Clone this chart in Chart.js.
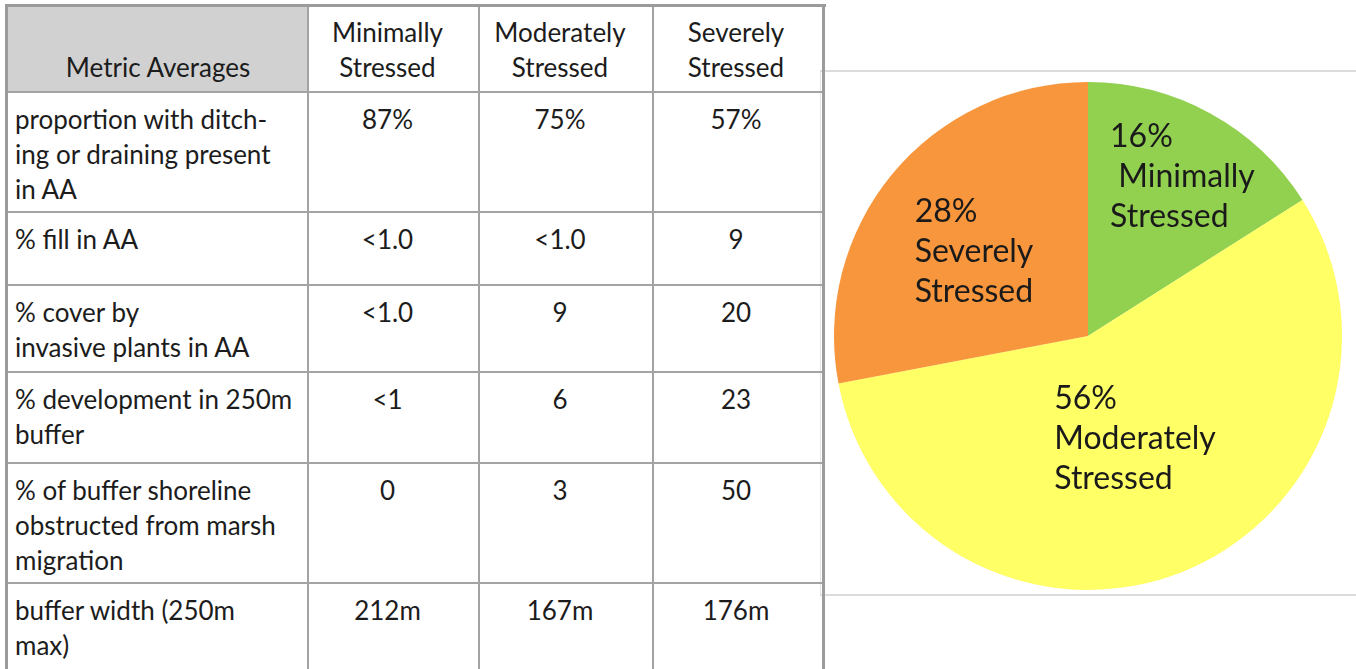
<!DOCTYPE html>
<html>
<head>
<meta charset="utf-8">
<script src="https://cdn.jsdelivr.net/npm/chart.js@4/dist/chart.umd.min.js"></script>
<style>
  html, body { margin: 0; padding: 0; background: #ffffff; }
  body { width: 1356px; height: 669px; position: relative; overflow: hidden;
         font-family: Lato, "Open Sans", sans-serif; color: #1c1c1c; }
  .line { position: absolute; background: #a3a3a3; }
  .cell { position: absolute; box-sizing: border-box; font-size: 26px; line-height: 35px; white-space: nowrap; }
  .head { background: #d1d1d1; }
  .colhead { text-align: center; }
  .metric { padding: 10px 0 0 7px; }
  .val { text-align: center; padding-top: 10px; }
  #panel { position: absolute; left: 820px; top: 70px; width: 560px; height: 526px;
           border-top: 2px solid #dcdcdc; border-bottom: 2px solid #dcdcdc; border-left: 1px solid #e3e3e3;
           box-sizing: border-box; }
  #pieWrap { position: absolute; left: 834px; top: 82px; width: 508px; height: 508px; }
</style>
</head>
<body>
<div id="panel"></div>
<div id="pieWrap"><canvas id="pie" width="508" height="508"></canvas></div>
<div id="table"></div>
<script>
// Stress classes and share of sites in each
const categories = ['Minimally Stressed', 'Moderately Stressed', 'Severely Stressed'];
const shares = [16, 56, 28];
const sliceColors = ['#92D050', '#FFFF66', '#F7963C'];

// Metric averages per stress class
const metricNames = [
  'proportion with ditch-<br>ing or draining present<br>in AA',
  '% fill in AA',
  '% cover by<br>invasive plants in AA',
  '% development in 250m<br>buffer',
  '% of buffer shoreline<br>obstructed from marsh<br>migration',
  'buffer width (250m<br>max)'
];
const minimallyValues  = ['87%', '<1.0', '<1.0', '<1', '0', '212m'];
const moderatelyValues = ['75%', '<1.0', '9', '6', '3', '167m'];
const severelyValues   = ['57%', '9', '20', '23', '50', '176m'];

// ---- table layout ----
const colX = [8, 308, 479, 653, 823];               // grid line positions (x)
const rowY = [6, 92, 212, 285, 372, 463, 583, 705]; // grid line positions (y)
const colPadRight = [12, 12, 4];                    // nudges the centred text in each value column
const table = document.getElementById('table');

function addCell(x0, y0, x1, y1, cls, html, extraStyle) {
  const d = document.createElement('div');
  d.className = 'cell ' + cls;
  d.style.left = x0 + 'px'; d.style.top = y0 + 'px';
  d.style.width = (x1 - x0) + 'px'; d.style.height = (y1 - y0) + 'px';
  if (extraStyle) Object.assign(d.style, extraStyle);
  d.innerHTML = html;
  table.appendChild(d);
}
function addLine(x, y, w, h, color) {
  const d = document.createElement('div');
  d.className = 'line';
  d.style.left = x + 'px'; d.style.top = y + 'px';
  d.style.width = w + 'px'; d.style.height = h + 'px';
  if (color) d.style.background = color;
  table.appendChild(d);
}

// header row
addCell(colX[0], rowY[0], colX[1], rowY[1], 'head', 'Metric Averages',
  { textAlign: 'center', paddingTop: '44px' });
const headers = categories.map(c => c.replace(' ', '<br>'));
headers.forEach((h, i) => {
  addCell(colX[i + 1], rowY[0], colX[i + 2], rowY[1], 'colhead', h,
    { paddingTop: '9px', paddingRight: colPadRight[i] + 'px' });
});

// body rows
const valueCols = [minimallyValues, moderatelyValues, severelyValues];
metricNames.forEach((name, r) => {
  addCell(colX[0], rowY[r + 1], colX[1], rowY[r + 2], 'metric', name);
  valueCols.forEach((vals, c) => {
    const txt = vals[r].replace('<', '&lt;');
    addCell(colX[c + 1], rowY[r + 1], colX[c + 2], rowY[r + 2], 'val', txt,
      { paddingRight: colPadRight[c] + 'px' });
  });
});

// grid lines
rowY.slice(1, -1).forEach(y => addLine(colX[0], y - 1, colX[4] - colX[0], 2));
colX.slice(1, -1).forEach(x => addLine(x - 1, rowY[0], 2, 700));
// outer frame
addLine(5, 4, 3, 700, '#9b9b9b');
addLine(5, 4, 821, 3, '#9b9b9b');
addLine(822, 4, 3, 700, '#9b9b9b');

// ---- pie chart ----
// Placement of each slice's label block: fraction of the radius and
// angular offset (degrees) from the slice's middle angle
const labelRadius = [0.728, 0.445, 0.559];
const labelAngleOffset = [1.9, -3, -3];

const sliceLabels = {
  id: 'sliceLabels',
  afterDatasetsDraw(chart) {
    const ctx = chart.ctx;
    const meta = chart.getDatasetMeta(0);
    ctx.save();
    ctx.font = '32px Lato, "Open Sans", sans-serif';
    ctx.fillStyle = '#1a1a1a';
    ctx.textAlign = 'left';
    ctx.textBaseline = 'middle';
    const lineH = 40;
    meta.data.forEach((arc, i) => {
      const p = arc.getProps(['x', 'y', 'startAngle', 'endAngle', 'outerRadius'], true);
      const mid = (p.startAngle + p.endAngle) / 2 + labelAngleOffset[i] * Math.PI / 180;
      const r = p.outerRadius * labelRadius[i];
      const cx = p.x + Math.cos(mid) * r;
      const cy = p.y + Math.sin(mid) * r;
      const words = categories[i].split(' ');
      const lines = [shares[i] + '%', (i === 0 ? ' ' : '') + words[0], words[1]];
      const w = Math.max(...lines.map(l => ctx.measureText(l).width));
      const x0 = cx - w / 2;
      const y0 = cy - lineH * (lines.length - 1) / 2;
      lines.forEach((l, k) => ctx.fillText(l, x0, y0 + k * lineH));
    });
    ctx.restore();
  }
};

new Chart(document.getElementById('pie'), {
  type: 'pie',
  data: {
    labels: categories,
    datasets: [{
      data: shares,
      backgroundColor: sliceColors,
      borderWidth: 0
    }]
  },
  options: {
    responsive: false,
    animation: false,
    devicePixelRatio: 1,
    layout: { padding: 0 },
    plugins: { legend: { display: false }, tooltip: { enabled: false } }
  },
  plugins: [sliceLabels]
});
</script>
</body>
</html>
